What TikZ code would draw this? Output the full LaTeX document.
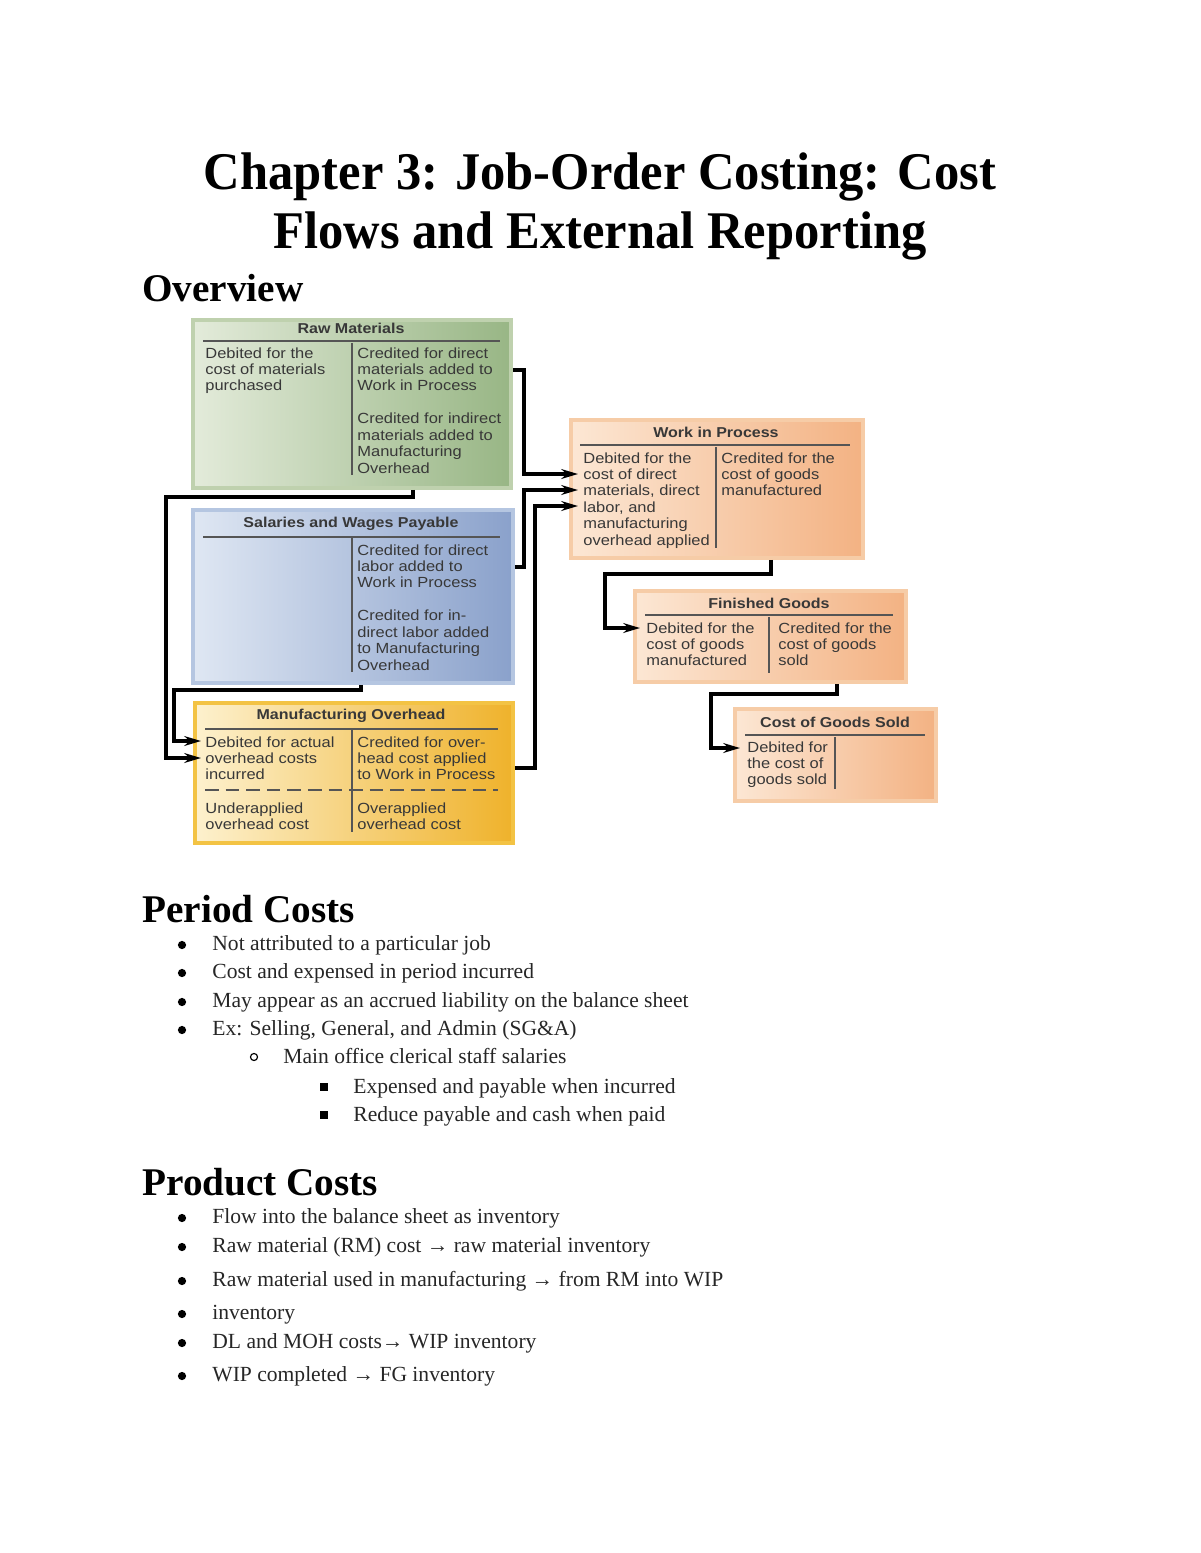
\documentclass[tikz,border=0pt]{standalone}
\usepackage{fontspec}
\setmainfont{Liberation Serif}
\setsansfont[FakeStretch=1.12]{Liberation Sans}
\newfontfamily\titlefont[FakeStretch=0.955]{Liberation Serif}
\usetikzlibrary{arrows.meta}

\definecolor{rmlight}{HTML}{E3EBDA}
\definecolor{rmdark}{HTML}{98B685}
\definecolor{rmedge}{HTML}{BFD1AE}
\definecolor{swlight}{HTML}{DFE7F3}
\definecolor{swdark}{HTML}{8AA1CB}
\definecolor{swedge}{HTML}{B5C6E1}
\definecolor{molight}{HTML}{FDF1CE}
\definecolor{modark}{HTML}{EFB22B}
\definecolor{moedge}{HTML}{F3C344}
\definecolor{wiplight}{HTML}{FCE7D4}
\definecolor{wipdark}{HTML}{F3B283}
\definecolor{wipedge}{HTML}{F6CCA7}
\definecolor{ink}{HTML}{383838}
\definecolor{rulegray}{HTML}{555555}

\def\px{0.51pt}

\begin{document}
\begin{tikzpicture}[x=0.51pt,y=-0.51pt,
  acct/.style={rectangle, inner sep=0pt, anchor=north west, line width=2pt},
  ttl/.style={font=\sffamily\bfseries\fontsize{7.3}{8.4}\selectfont, text=ink, inner sep=0pt},
  txt/.style={font=\sffamily\fontsize{7.5}{8.4}\selectfont, text=ink, align=left,
    anchor=north west, inner sep=0pt},
  rule/.style={draw=rulegray, line width=0.6pt},
  flowline/.style={draw=black, line width=1.6pt, -{Stealth[length=8.5pt,width=5pt]}},
  head/.style={font=\bfseries\fontsize{20}{24}\selectfont, anchor=base west, inner sep=0pt},
  body/.style={font=\fontsize{11}{13}\selectfont, text=black!85, anchor=base west, inner sep=0pt}]
  \useasboundingbox (0,0) rectangle (1200,1553);

  % title
  \node[font=\titlefont\bfseries\fontsize{27}{30}\selectfont, anchor=base, inner sep=0pt]
    (title1) at (600,190) {Chapter 3: Job-Order Costing: Cost};
  \node[font=\titlefont\bfseries\fontsize{27}{30}\selectfont, anchor=base, inner sep=0pt]
    (title2) at (600,248) {Flows and External Reporting};
  \node[head] (overview) at (142,301) {Overview};

  % accounts
  \node[acct, left color=rmlight, right color=rmdark, draw=rmedge,
    minimum width=318*\px, minimum height=168*\px] (rm) at (191,318) {};
  \node[acct, left color=swlight, right color=swdark, draw=swedge,
    minimum width=320*\px, minimum height=173*\px] (sw) at (191,508) {};
  \node[acct, left color=molight, right color=modark, draw=moedge,
    minimum width=318*\px, minimum height=140*\px] (mo) at (193,701) {};
  \node[acct, left color=wiplight, right color=wipdark, draw=wipedge,
    minimum width=292*\px, minimum height=138*\px] (wip) at (569,418) {};
  \node[acct, left color=wiplight, right color=wipdark, draw=wipedge,
    minimum width=271*\px, minimum height=91*\px] (fg) at (633,589) {};
  \node[acct, left color=wiplight, right color=wipdark, draw=wipedge,
    minimum width=201*\px, minimum height=92*\px] (cgs) at (733,707) {};

  % raw materials
  \node[ttl] (rmttl) at (351,328) {Raw Materials};
  \draw[rule] (203,341) -- (500,341);
  \draw[rule] (352,343) -- (352,475);
  \node[txt] (rmdr) at (205,347) {Debited for the\\cost of materials\\purchased};
  \node[txt] (rmcr) at (357,347) {Credited for direct\\materials added to\\Work in Process\\[8.4pt]
    Credited for indirect\\materials added to\\Manufacturing\\Overhead};

  % salaries and wages
  \node[ttl] (swttl) at (351,524) {Salaries and Wages Payable};
  \draw[rule] (203,537) -- (500,537);
  \draw[rule] (352,538) -- (352,672);
  \node[txt] (swcr) at (357,544) {Credited for direct\\labor added to\\Work in Process\\[8.4pt]
    Credited for in-\\direct labor added\\to Manufacturing\\Overhead};

  % overhead
  \node[ttl] (mottl) at (351,716) {Manufacturing Overhead};
  \draw[rule] (205,729) -- (498,729);
  \draw[rule] (352,730) -- (352,832);
  \draw[rule, dash pattern=on 7pt off 3.5pt] (205,790) -- (498,790);
  \node[txt] (modr) at (205,736) {Debited for actual\\overhead costs\\incurred};
  \node[txt] (mocr) at (357,736) {Credited for over-\\head cost applied\\to Work in Process};
  \node[txt] (moun) at (205,802) {Underapplied\\overhead cost};
  \node[txt] (moov) at (357,802) {Overapplied\\overhead cost};

  % work in process
  \node[ttl] (wipttl) at (716,432) {Work in Process};
  \draw[rule] (580,445) -- (850,445);
  \draw[rule] (716,447) -- (716,548);
  \node[txt] (wipdr) at (583,452) {Debited for the\\cost of direct\\materials, direct\\labor, and\\manufacturing\\overhead applied};
  \node[txt] (wipcr) at (721,452) {Credited for the\\cost of goods\\manufactured};

  % finished goods
  \node[ttl] (fgttl) at (769,603) {Finished Goods};
  \draw[rule] (645,615) -- (893,615);
  \draw[rule] (769,617) -- (769,673);
  \node[txt] (fgdr) at (646,622) {Debited for the\\cost of goods\\manufactured};
  \node[txt] (fgcr) at (778,622) {Credited for the\\cost of goods\\sold};

  % cost of goods sold
  \node[ttl] (cgsttl) at (835,722) {Cost of Goods Sold};
  \draw[rule] (745,735) -- (925,735);
  \draw[rule] (835,737) -- (835,789);
  \node[txt] (cgsdr) at (747,741) {Debited for\\the cost of\\goods sold};

  % flows
  \coordinate (wipa) at (578,474);
  \coordinate (wipb) at (578,490);
  \coordinate (wipc) at (578,506);
  \coordinate (moa) at (201,741);
  \coordinate (mob) at (201,758);
  \coordinate (fga) at (640,628);
  \coordinate (cgsa) at (740,748);

  \draw[flowline] (rm.east |- 0,370) -- (524,370) |- (wipa);
  \draw[flowline] (sw.east |- 0,567) -- (524,567) |- (wipb);
  \draw[flowline] (mo.east |- 0,768) -- (535,768) |- (wipc);
  \draw[flowline] (rm.south -| 413,0) -- (413,497) -| (166,758) -- (mob);
  \draw[flowline] (sw.south -| 361,0) -- (361,690) -| (174,741) -- (moa);
  \draw[flowline] (wip.south -| 771,0) -- (771,574) -| (605,628) -- (fga);
  \draw[flowline] (fg.south -| 837,0) -- (837,694) -| (711,748) -- (cgsa);

  % period costs
  \node[head] (period) at (142,922) {Period Costs};
  \foreach \y in {945,973,1002,1030}
    \fill (182,\y) circle (2.1pt);
  \draw[line width=0.6pt] (254,1057) circle (1.8pt);
  \foreach \y in {1087,1115}
    \fill (320,\y-4) rectangle (328,\y+4);
  \node[body] (pc1) at (212,950) {Not attributed to a particular job};
  \node[body] (pc2) at (212,978) {Cost and expensed in period incurred};
  \node[body] (pc3) at (212,1007) {May appear as an accrued liability on the balance sheet};
  \node[body] (pc4) at (212,1035) {Ex: Selling, General, and Admin (SG\&A)};
  \node[body] (pc5) at (283,1063) {Main office clerical staff salaries};
  \node[body] (pc6) at (353,1093) {Expensed and payable when incurred};
  \node[body] (pc7) at (353,1121) {Reduce payable and cash when paid};

  % product costs
  \node[head] (product) at (142,1195) {Product Costs};
  \foreach \y in {1218,1247,1281,1314,1343,1376}
    \fill (182,\y) circle (2.1pt);
  \node[body] (pd1) at (212,1223) {Flow into the balance sheet as inventory};
  \node[body] (pd2) at (212,1252) {Raw material (RM) cost → raw material inventory};
  \node[body] (pd3) at (212,1286) {Raw material used in manufacturing → from RM into WIP};
  \node[body] (pd4) at (212,1319) {inventory};
  \node[body] (pd5) at (212,1348) {DL and MOH costs→ WIP inventory};
  \node[body] (pd6) at (212,1381) {WIP completed → FG inventory};
\end{tikzpicture}
\end{document}
